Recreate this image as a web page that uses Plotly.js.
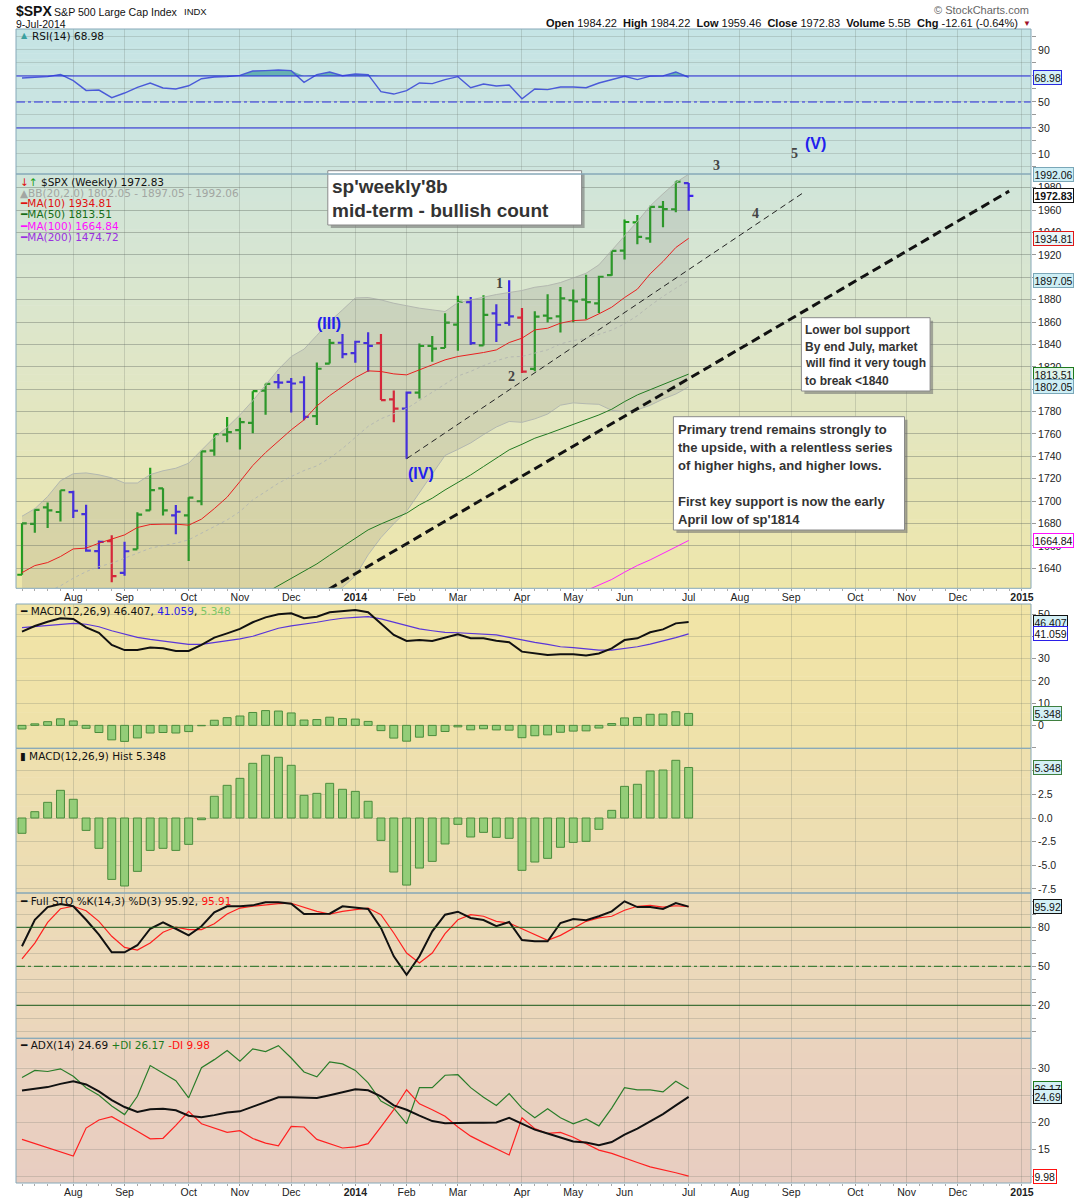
<!DOCTYPE html>
<html><head><meta charset="utf-8">
<script src="https://cdn.plot.ly/plotly-3.0.1.min.js"></script>
<style>body{margin:0;background:#fff}#chart{width:1075px;height:1200px}</style>
</head><body><div id="chart"></div>
<script>
// ---------------- DATA ----------------
const weeks = ['2013-07-08','2013-07-15','2013-07-22','2013-07-29','2013-08-05','2013-08-12','2013-08-19','2013-08-26','2013-09-02','2013-09-09','2013-09-16','2013-09-23','2013-09-30','2013-10-07','2013-10-14','2013-10-21','2013-10-28','2013-11-04','2013-11-11','2013-11-18','2013-11-25','2013-12-02','2013-12-09','2013-12-16','2013-12-23','2013-12-30','2014-01-06','2014-01-13','2014-01-20','2014-01-27','2014-02-03','2014-02-10','2014-02-17','2014-02-24','2014-03-03','2014-03-10','2014-03-17','2014-03-24','2014-03-31','2014-04-07','2014-04-14','2014-04-21','2014-04-28','2014-05-05','2014-05-12','2014-05-19','2014-05-26','2014-06-02','2014-06-09','2014-06-16','2014-06-23','2014-06-30','2014-07-07'];
const openP  = [1634.2,1679.6,1694.4,1690.3,1708.0,1688.4,1655.3,1664.3,1635.9,1656.9,1691.7,1711.4,1687.3,1687.2,1699.9,1745.2,1759.4,1763.4,1770.0,1798.8,1806.3,1806.6,1806.2,1776.0,1822.9,1841.5,1832.3,1841.3,1841.1,1791.0,1782.7,1797.0,1838.8,1836.8,1857.7,1877.9,1839.1,1867.7,1859.2,1863.9,1818.2,1865.8,1865.0,1879.5,1880.0,1876.7,1902.0,1923.9,1949.0,1934.8,1962.9,1960.8,1984.2];
const highP  = [1680.2,1693.1,1698.8,1709.7,1709.2,1696.8,1664.9,1669.5,1663.6,1690.0,1729.9,1711.4,1696.6,1703.4,1745.3,1759.8,1775.2,1774.5,1798.2,1804.8,1813.6,1810.0,1811.5,1823.8,1844.9,1849.4,1843.2,1850.8,1849.3,1798.8,1798.0,1840.8,1847.5,1867.9,1883.6,1882.4,1884.0,1875.9,1897.3,1872.5,1869.6,1884.9,1891.3,1889.1,1902.2,1901.3,1924.0,1951.6,1955.6,1963.9,1968.2,1985.6,1984.2];
const lowP   = [1634.2,1671.8,1676.0,1681.9,1684.9,1654.8,1639.4,1627.5,1633.4,1656.9,1691.7,1687.1,1670.4,1646.5,1696.4,1740.5,1752.7,1746.2,1760.6,1777.2,1800.6,1779.1,1772.3,1768.0,1822.9,1827.7,1823.7,1815.5,1790.3,1770.5,1737.9,1791.8,1824.6,1836.8,1834.4,1839.6,1839.1,1842.1,1856.7,1814.4,1816.0,1859.7,1850.6,1859.8,1862.4,1868.1,1901.3,1916.0,1929.6,1930.9,1944.7,1958.2,1959.5];
const closeP = [1680.2,1692.1,1691.7,1709.7,1691.4,1655.8,1663.5,1633.0,1655.2,1688.0,1709.9,1691.8,1690.5,1703.2,1744.5,1759.8,1761.6,1770.6,1798.2,1804.8,1805.8,1805.1,1775.3,1818.3,1841.4,1831.4,1842.4,1838.7,1790.3,1782.6,1797.0,1838.6,1836.3,1859.5,1878.0,1841.1,1866.5,1857.6,1865.1,1815.7,1864.9,1863.4,1881.1,1878.5,1877.9,1900.5,1923.6,1949.4,1936.2,1962.9,1961.0,1985.4,1972.8];
const barColor = ['G','G','G','G','B','B','B','R','B','G','G','G','B','G','G','G','G','G','G','G','B','B','B','G','G','B','B','B','R','R','B','G','G','G','G','B','G','B','B','R','G','G','G','G','G','G','G','G','G','G','G','G','B'];
const ma10 = [1636.1,1642.4,1645.1,1650.5,1657.3,1658.0,1662.4,1666.0,1669.8,1676.4,1679.1,1679.4,1679.4,1678.5,1683.9,1693.3,1703.5,1717.5,1731.8,1743.4,1753.2,1763.7,1772.6,1785.1,1794.3,1802.3,1810.3,1816.4,1815.8,1813.7,1812.8,1817.3,1821.7,1826.2,1829.2,1830.7,1832.8,1835.1,1841.7,1845.6,1853.0,1854.5,1859.0,1861.3,1861.9,1867.3,1873.3,1881.9,1889.4,1903.1,1914.1,1926.6,1934.8];
const ma50 = [null,null,null,null,null,null,null,null,null,null,null,null,null,null,null,null,null,null,null,1618.0,1624.3,1630.8,1637.0,1643.9,1651.7,1659.4,1667.3,1674.3,1679.6,1684.7,1689.2,1696.6,1702.6,1710.0,1716.6,1723.4,1730.9,1738.3,1745.8,1750.8,1756.2,1760.1,1764.2,1768.1,1772.6,1777.0,1782.1,1788.9,1794.9,1799.4,1803.9,1808.9,1813.5];
const ma100 = [null,null,null,null,null,null,null,null,null,null,null,null,null,null,null,null,null,null,null,null,null,null,null,null,null,null,null,null,null,null,null,null,null,null,null,null,null,null,null,null,null,null,null,null,1620.0,1625.0,1630.0,1636.5,1642.5,1647.5,1653.0,1659.0,1664.84];
const bbUpper = [1686.5,1693.2,1704.1,1718.2,1724.5,1725.2,1723.5,1720.8,1716.2,1716.2,1723.7,1727.1,1729.4,1733.9,1745.5,1757.0,1765.9,1777.1,1789.7,1804.2,1817.7,1829.2,1835.8,1848.1,1860.5,1870.9,1881.6,1881.9,1879.8,1876.8,1874.5,1872.4,1870.9,1869.4,1877.4,1879.8,1882.8,1884.6,1886.4,1888.2,1891.1,1892.6,1895.3,1899.2,1903.6,1911.1,1924.5,1937.0,1949.8,1963.8,1974.6,1984.7,1992.06];
const bbMid = [1610,1614,1619,1624.3,1631.1,1637.0,1641.5,1644.5,1649.0,1653.5,1657.9,1660.3,1662.4,1665.4,1671.3,1677.3,1683.2,1690.7,1701.1,1708.5,1716.0,1722.0,1727.3,1731.5,1738.4,1747.0,1757.0,1766.8,1773.6,1778.3,1782.7,1790.0,1797.3,1805.1,1811.8,1815.9,1821.1,1825.4,1828.8,1829.3,1832.3,1835.2,1840.5,1843.5,1845.3,1848.8,1852.8,1858.4,1865.7,1874.7,1882.9,1890.2,1897.05];
const bbLower = [1540,1540,1536,1531,1538,1549,1559,1568,1582,1591,1593,1594,1596,1597,1597,1598,1601,1604,1612,1613,1614,1615,1619,1615,1616,1623,1633,1652,1667.4,1679.8,1690.9,1707.6,1723.7,1740.8,1746.2,1752.0,1759.4,1766.2,1771.2,1770.4,1773.5,1777.8,1785.7,1787.8,1787.0,1786.5,1781.1,1779.8,1781.6,1785.6,1791.2,1795.7,1802.05];
const rsi = [68.5,69.2,69.5,71.2,66.4,58.9,59.2,53.3,56.9,61.2,64.6,60.8,60.0,62.5,67.9,69.2,69.5,70.5,73.8,74.1,74.6,74.1,65.1,71.0,73.1,70.2,71.5,71.0,57.9,56.1,58.7,64.6,64.1,67.2,69.5,61.0,63.8,62.3,63.1,52.5,60.0,59.5,61.5,61.5,61.0,64.6,67.2,69.8,67.2,69.9,70.1,73.1,68.98];
const macd = [42.1,44.6,46.5,48.1,47.8,44.0,41.6,36.1,33.8,33.8,35.0,34.6,33.4,33.4,36.1,39.4,41.3,43.3,46.3,48.5,49.9,50.3,48.1,48.8,50.8,51.3,51.8,50.8,45.5,40.6,37.9,38.3,37.9,39.4,40.9,39.1,39.1,38.0,37.3,33.1,32.3,31.6,31.9,31.9,31.4,32.3,34.6,38.3,39.1,41.8,43.1,45.8,46.407];
const macdSignal = [43.9,44.3,44.7,45.1,45.8,45.4,44.3,42.5,40.9,39.5,38.6,37.9,37.1,36.4,36.4,37.1,37.9,38.8,40.0,41.8,43.6,44.7,45.4,46.3,47.3,48.1,48.5,48.8,47.8,46.3,44.6,43.3,42.5,41.8,41.6,41.3,41.0,40.6,39.5,38.3,37.3,36.4,35.3,34.9,34.4,33.8,33.8,34.6,35.3,36.5,37.9,39.4,41.059];
const macdHist = [-1.62,0.67,1.66,2.93,1.98,-1.31,-3.21,-6.5,-7.2,-5.65,-3.43,-3.21,-3.43,-2.79,-0.18,2.3,3.46,4.2,5.79,6.64,6.43,5.58,2.4,2.61,3.67,3.04,2.82,1.77,-2.37,-5.72,-7.1,-5.3,-4.59,-2.75,-0.67,-2.01,-1.52,-2.05,-2.15,-5.54,-4.66,-4.27,-3.1,-2.58,-2.47,-1.2,0.81,3.35,3.57,4.98,5.08,6.11,5.348];
const stoK = [65.4,85.8,95.6,98.0,96.2,85.8,74.3,60.8,60.8,66.2,78.9,83.8,78.9,73.8,80.8,91.5,96.2,96.2,96.9,99.2,99.2,98.2,90.2,90.2,90.5,96.2,95.4,94.1,79.5,57.7,43.5,57.7,76.9,89.7,92.0,87.2,85.6,80.8,84.1,70.2,69.2,69.2,83.3,86.4,85.4,88.5,92.3,100.0,95.6,95.6,94.1,98.7,95.92];
const stoD = [55.8,67.9,83.8,94.3,96.2,92.8,84.6,73.1,64.6,62.5,67.9,76.2,80.2,78.2,78.2,82.8,90.2,94.8,96.2,97.4,98.2,98.5,95.4,92.3,90.2,92.3,93.6,94.8,89.7,75.6,60.2,52.5,60.2,75.1,85.8,89.7,88.5,84.6,83.3,78.9,74.3,70.0,73.8,79.5,84.6,87.2,88.5,93.1,96.2,96.9,95.6,96.6,95.91];
const adx = [25.85,26.2,26.5,27.1,27.6,27.0,25.7,24.1,22.8,21.9,22.4,22.5,22.2,21.2,20.9,21.3,21.8,22.0,22.9,23.7,24.6,24.6,24.5,24.5,25.0,25.6,26.1,25.9,24.8,23.1,22.3,21.2,20.2,19.8,19.9,19.9,19.9,19.95,20.8,19.7,18.6,17.9,17.1,16.4,16.2,15.7,16.3,17.7,18.8,20.1,21.5,23.1,24.69];
const plusDI = [28.3,29.6,29.4,29.9,28.5,26.4,25.0,23.0,21.4,24.8,30.5,29.1,27.7,24.5,30.1,31.6,33.3,31.3,33.6,33.1,34.2,31.9,29.3,28.4,31.2,30.8,29.6,27.3,23.9,22.6,19.7,26.4,26.4,28.7,28.8,26.4,24.6,23.1,25.3,22.6,20.8,22.5,20.8,19.7,20.6,19.3,22.6,26.4,26.0,26.0,25.6,27.6,26.17];
const minusDI = [16.8,16.0,15.2,14.4,13.7,18.9,20.4,21.0,19.7,18.3,16.9,17.0,19.4,22.0,19.7,18.9,18.1,18.4,16.95,16.1,15.6,19.2,19.1,16.8,16.0,15.2,15.4,16.0,19.1,22.3,26.0,23.4,22.3,21.1,19.1,17.4,16.2,15.1,13.9,20.8,18.8,17.9,18.1,17.2,16.0,14.8,14.2,13.3,12.5,11.7,11.2,10.6,9.98];
// trend lines drawn on the chart (week index, price)
const trendThinX = [30, 61], trendThinY = [1737.9, 1976];
const trendThickX = [23, 77], trendThickY = [1615, 1977];
// month axis labels (week index of first week in month)
const monthTickIdx = [4,8,13,17,21,26,30,34,39,43,47,52,56,60,65,69,73,78];
const monthTickText = ['Aug','Sep','Oct','Nov','Dec','<b>2014</b>','Feb','Mar','Apr','May','Jun','Jul','Aug','Sep','Oct','Nov','Dec','<b>2015</b>'];

// ---------------- LAYOUT HELPERS ----------------
const W=1075,H=1200, PL=16, PR=1031, PT=29, PB=1183;
const X = px => (px-PL)/(PR-PL);
const Y = py => (PB-py)/(PB-PT);
const idx = weeks.map((_,i)=>i);
const panels = {rsi:[29,174], price:[174,588.3], macd:[604,748.3], hist:[748.3,893], sto:[893,1038.3], adx:[1038.3,1183]};
const dom = k => [Y(panels[k][1]), Y(panels[k][0])];
const TF = 'Liberation Sans, Arial, sans-serif';
const LF = 'DejaVu Sans, Verdana, sans-serif';
const GRID = 'rgba(95,105,95,0.22)';

const shapes = [];
function gradient(y0,y1,stops,n){
  for(let i=0;i<n;i++){
    const t=(i+0.5)/n; let a=stops[0],b=stops[stops.length-1];
    for(let j=0;j<stops.length-1;j++){ if(t>=stops[j][0]&&t<=stops[j+1][0]){a=stops[j];b=stops[j+1];break;} }
    const f=(t-a[0])/((b[0]-a[0])||1);
    const c=a[1].map((v,k)=>Math.round(v+(b[1][k]-v)*f));
    const ya=y0+(y1-y0)*i/n, yb=y0+(y1-y0)*(i+1)/n+0.6;
    shapes.push({type:'rect',xref:'paper',yref:'paper',x0:0,x1:1,y0:Y(Math.min(yb,y1)),y1:Y(ya),fillcolor:`rgb(${c})`,line:{width:0},layer:'below'});
  }
}
gradient(29,174,[[0,[197,228,229]],[1,[206,229,222]]],24);
gradient(174,588.3,[[0,[208,229,218]],[0.45,[223,230,199]],[1,[238,230,170]]],60);
gradient(604,748.3,[[0,[241,228,166]],[1,[239,226,170]]],20);
gradient(748.3,893,[[0,[238,224,174]],[1,[236,220,180]]],20);
gradient(893,1038.3,[[0,[236,219,183]],[1,[235,214,188]]],20);
gradient(1038.3,1183,[[0,[234,211,190]],[1,[232,205,193]]],20);

// reference lines
const hline=(yref,v,color,dash,w)=>shapes.push({type:'line',xref:'paper',x0:0,x1:1,yref:yref,y0:v,y1:v,line:{color:color,width:w||1,dash:dash||'solid'},layer:'above'});
hline('y',70,'#2a2ae0');hline('y',30,'#2a2ae0');hline('y',50,'#2a2ae0','dashdot');
hline('y5',80,'#1d5e1d');hline('y5',20,'#1d5e1d');hline('y5',50,'#1d6e1d','dashdot');

// text boxes (shadow + box)
function box(x0,y0,x1,y1){
  shapes.push({type:'rect',xref:'paper',yref:'paper',x0:X(x0+3),x1:X(x1+3),y0:Y(y1+3),y1:Y(y0+3),fillcolor:'rgba(110,110,110,0.55)',line:{width:0},layer:'above'});
  shapes.push({type:'rect',xref:'paper',yref:'paper',x0:X(x0),x1:X(x1),y0:Y(y1),y1:Y(y0),fillcolor:'#ffffff',line:{color:'#8a8a8a',width:1},layer:'above'});
}
box(327.8,170.7,581.6,225);
box(801.4,317.7,930.1,391);
box(673.4,416.7,904.5,530);

// panel borders
Object.keys(panels).forEach(k=>{const p=panels[k];shapes.push({type:'rect',xref:'paper',yref:'paper',x0:0,x1:1,y0:Y(p[1]),y1:Y(p[0]),line:{color:'#86a8b8',width:1},fillcolor:'rgba(0,0,0,0)',layer:'above'});});

// ---------------- TRACES ----------------
const traces=[];
// RSI
traces.push({type:'scatter',mode:'lines',x:idx,y:rsi.map(()=>70),xaxis:'x',yaxis:'y',line:{width:0},hoverinfo:'skip'});
traces.push({type:'scatter',mode:'lines',x:idx,y:rsi.map(v=>Math.max(v,70)),xaxis:'x',yaxis:'y',line:{width:0},fill:'tonexty',fillcolor:'rgba(70,160,160,0.75)',hoverinfo:'skip'});
traces.push({type:'scatter',mode:'lines',x:idx,y:rsi,xaxis:'x',yaxis:'y',line:{color:'#4a5ad8',width:1.4},hoverinfo:'skip'});
// Bollinger
traces.push({type:'scatter',mode:'lines',x:idx,y:bbLower,xaxis:'x',yaxis:'y2',line:{color:'#b3b8b0',width:1},hoverinfo:'skip'});
traces.push({type:'scatter',mode:'lines',x:idx,y:bbUpper,xaxis:'x',yaxis:'y2',line:{color:'#b3b8b0',width:1},fill:'tonexty',fillcolor:'rgba(120,120,120,0.17)',hoverinfo:'skip'});
traces.push({type:'scatter',mode:'lines',x:idx,y:bbMid,xaxis:'x',yaxis:'y2',line:{color:'#b5b9b2',width:1,dash:'dot'},hoverinfo:'skip'});
traces.push({type:'scatter',mode:'lines',x:idx,y:ma50,xaxis:'x',yaxis:'y2',line:{color:'#217a21',width:1},hoverinfo:'skip'});
traces.push({type:'scatter',mode:'lines',x:idx,y:ma100,xaxis:'x',yaxis:'y2',line:{color:'#ff22ff',width:1},hoverinfo:'skip'});
traces.push({type:'scatter',mode:'lines',x:idx,y:ma10,xaxis:'x',yaxis:'y2',line:{color:'#e82020',width:1},hoverinfo:'skip'});
// OHLC bars by colour
const cmap={G:'#1f9e1c',B:'#3b22ee',R:'#e8182e'};
['G','B','R'].forEach(c=>{
  const sel=idx.filter(i=>barColor[i]===c);
  traces.push({type:'ohlc',x:sel,open:sel.map(i=>openP[i]),high:sel.map(i=>highP[i]),low:sel.map(i=>lowP[i]),close:sel.map(i=>closeP[i]),
    xaxis:'x',yaxis:'y2',tickwidth:0.37,increasing:{line:{color:cmap[c],width:2.2}},decreasing:{line:{color:cmap[c],width:2.2}},hoverinfo:'skip'});
});
// trend lines
traces.push({type:'scatter',mode:'lines',x:trendThickX,y:trendThickY,xaxis:'x',yaxis:'y2',line:{color:'#111',width:3,dash:'9px,5px'},hoverinfo:'skip'});
traces.push({type:'scatter',mode:'lines',x:trendThinX,y:trendThinY,xaxis:'x',yaxis:'y2',line:{color:'#222',width:1,dash:'6px,4px'},hoverinfo:'skip'});
// dummy for second x axis
traces.push({type:'scatter',mode:'lines',x:[0],y:[null],xaxis:'x2',yaxis:'y2',hoverinfo:'skip'});
// MACD
const histStyle={color:'#93cd78',line:{color:'#4b8c3c',width:1}};
traces.push({type:'bar',x:idx,y:macdHist,xaxis:'x',yaxis:'y3',width:0.62,marker:histStyle,hoverinfo:'skip'});
traces.push({type:'scatter',mode:'lines',x:idx,y:macdSignal,xaxis:'x',yaxis:'y3',line:{color:'#5a36d8',width:1.2},hoverinfo:'skip'});
traces.push({type:'scatter',mode:'lines',x:idx,y:macd,xaxis:'x',yaxis:'y3',line:{color:'#111',width:2},hoverinfo:'skip'});
// Hist
traces.push({type:'bar',x:idx,y:macdHist,xaxis:'x',yaxis:'y4',width:0.62,marker:histStyle,hoverinfo:'skip'});
// STO
traces.push({type:'scatter',mode:'lines',x:idx,y:stoD,xaxis:'x',yaxis:'y5',line:{color:'#ff2020',width:1.2},hoverinfo:'skip'});
traces.push({type:'scatter',mode:'lines',x:idx,y:stoK,xaxis:'x',yaxis:'y5',line:{color:'#111',width:2},hoverinfo:'skip'});
// ADX
traces.push({type:'scatter',mode:'lines',x:idx,y:plusDI,xaxis:'x',yaxis:'y6',line:{color:'#2a7d2a',width:1.2},hoverinfo:'skip'});
traces.push({type:'scatter',mode:'lines',x:idx,y:minusDI,xaxis:'x',yaxis:'y6',line:{color:'#ff2020',width:1.2},hoverinfo:'skip'});
traces.push({type:'scatter',mode:'lines',x:idx,y:adx,xaxis:'x',yaxis:'y6',line:{color:'#111',width:2},hoverinfo:'skip'});

// ---------------- AXES ----------------
const XR=[(PL-22)/12.82,(PR-22)/12.82];
const tickfont={family:TF,size:10.5,color:'#222'};
const xcommon={range:XR,tickmode:'array',tickvals:monthTickIdx,ticktext:monthTickText,tickfont:{family:TF,size:10.5,color:'#222'},
  ticks:'outside',ticklen:2,tickcolor:'#999',ticklabelstandoff:-3,zeroline:false,showline:false,fixedrange:true,
  minor:{tickmode:'linear',tick0:0,dtick:1,ticks:'outside',ticklen:2,tickcolor:'#aaa',showgrid:false}};
function yax(k,range,vals,texts,extra){
  return Object.assign({domain:dom(k),range:range,side:'right',anchor:'x',tickmode:'array',tickvals:vals,ticktext:texts,
    tickfont:tickfont,ticks:'outside',ticklen:4,tickcolor:'#999',showgrid:true,gridcolor:GRID,gridwidth:1,zeroline:false,showline:false,fixedrange:true},extra||{});
}
const priceTicks=[];for(let v=1640;v<=1980;v+=20)priceTicks.push(v);
const priceHidden=[1800,1900]; // fully covered by value boxes in the reference
const tens=[0,10,20,30,40,50,60,70,80,90,100];
const layout={
  width:W,height:H,margin:{l:PL,r:W-PR,t:PT,b:H-PB,pad:0},paper_bgcolor:'#ffffff',plot_bgcolor:'rgba(0,0,0,0)',
  showlegend:false,barmode:'overlay',hovermode:false,
  xaxis:Object.assign({domain:[0,1],anchor:'y6',showgrid:true,gridcolor:GRID,gridwidth:1,rangeslider:{visible:false}},xcommon),
  xaxis2:Object.assign({domain:[0,1],anchor:'y2',showgrid:false,rangeslider:{visible:false}},xcommon),
  yaxis: yax('rsi',[-5.4,106.15],tens,['','10','','30','','50','','','','90','']),
  yaxis2:yax('price',[1622.1,1992.3],priceTicks,priceTicks.map(v=>priceHidden.includes(v)?'':String(v))),
  yaxis3:yax('macd',[-10.3,54.5],[-10,0,10,20,30,40,50],['','0','10','20','30','','50']),
  yaxis4:yax('hist',[-7.94,7.38],[-7.5,-5,-2.5,0,2.5,5],['-7.5','-5.0','-2.5','0.0','2.5','5.0']),
  yaxis5:yax('sto',[-5.4,106.4],tens,['','','20','','','50','','','80','','']),
  yaxis6:yax('adx',[8.7,35.56],[10,15,20,25,30],['','15','20','','30']),
  shapes:shapes,annotations:[]
};

// ---------------- ANNOTATIONS ----------------
const A=layout.annotations;
function txt(xpx,ypx,text,font,opt){A.push(Object.assign({xref:'paper',yref:'paper',x:X(xpx),y:Y(ypx),text:text,showarrow:false,xanchor:'left',yanchor:'middle',font:font},opt||{}));}
// header
txt(14,11,'<b>$SPX</b>',{family:TF,size:14,color:'#111'});
txt(52,11.5,'S&P 500 Large Cap Index',{family:TF,size:10.6,color:'#111'});
txt(182,12,'INDX',{family:TF,size:9.5,color:'#111'});
txt(14,24,'9-Jul-2014',{family:TF,size:10.5,color:'#111'});
txt(1031,10,'© StockCharts.com',{family:TF,size:11,color:'#666'},{xanchor:'right'});
txt(1020,23.5,'<b>Open</b> 1984.22  <b>High</b> 1984.22  <b>Low</b> 1959.46  <b>Close</b> 1972.83  <b>Volume</b> 5.5B  <b>Chg</b> -12.61 (-0.64%)',{family:TF,size:11,color:'#111'},{xanchor:'right'});
txt(1021,23,'▼',{family:TF,size:8,color:'#a0102a'});
// legends
const lf=(c)=>({family:LF,size:10.5,color:c||'#111'});
txt(19,36,'▲',{family:LF,size:8,color:'#3aa0a0'});
txt(30,36,'RSI(14) 68.98',lf());
txt(18,181.7,'<span style="color:#e01010">↓</span><span style="color:#20a020">↑</span> $SPX (Weekly) 1972.83',lf());
txt(18,192.7,'▲BB(20,2.0) 1802.05 - 1897.05 - 1992.06',lf('#a2a6a2'));
txt(18,203.3,'━MA(10) 1934.81',lf('#e01010'));
txt(18,214.3,'━MA(50) 1813.51',lf('#176d17'));
txt(18,225.7,'━MA(100) 1664.84',lf('#ff10ff'));
txt(18,236.7,'━MA(200) 1474.72',lf('#9a30e0'));
txt(18,610.7,'━ MACD(12,26,9) 46.407, <span style="color:#2a1ee8">41.059</span>, <span style="color:#7cc466">5.348</span>',lf());
txt(18,755.7,'▮ MACD(12,26,9) Hist 5.348',lf());
txt(18,900.7,'━ Full STO %K(14,3) %D(3) 95.92, <span style="color:#ff1010">95.91</span>',lf());
txt(18,1045.3,'━ ADX(14) 24.69 <span style="color:#1d7a1d">+DI 26.17</span> <span style="color:#ff1010">-DI 9.98</span>',lf());
// wave labels
const wb={family:TF,size:16,color:'#2020ee'};
txt(328.7,323.3,'<b>(III)</b>',wb,{xanchor:'center'});
txt(420.8,473.3,'<b>(IV)</b>',wb,{xanchor:'center'});
txt(815.5,143.3,'<b>(V)</b>',wb,{xanchor:'center'});
const wn={family:'Liberation Serif, Times New Roman, serif',size:14,color:'#444'};
[['1',499.3,283.3],['2',511.7,376.7],['3',716.7,165.7],['4',755.6,214],['5',794.2,153.3]].forEach(a=>txt(a[1],a[2],'<b>'+a[0]+'</b>',wn,{xanchor:'center'}));
// text boxes
const bf={family:TF,size:19,color:'#333'};
txt(330,187,"<b>sp'weekly'8b</b>",bf);
txt(330,210,'<b>mid-term - bullish count</b>',bf);
const sf={family:TF,size:12,color:'#333'};
['Lower bol support','By end July, market','will find it very tough','to break &lt;1840'].forEach((t,i)=>txt(803,[330,346.7,363.3,380.7][i],'<b>'+t+'</b>',sf));
const mf={family:TF,size:13,color:'#333'};
['Primary trend remains strongly to','the upside, with a relentless series','of higher highs, and higher lows.','First key support is now the early',"April low of sp'1814"].forEach((t,i)=>txt(676,[429.3,447.3,465.3,501.3,519.3][i],'<b>'+t+'</b>',mf));
// value labels on right axis
function vlab(yref,v,text,bg,border,bold){A.push({xref:'paper',yref:yref,x:1,y:v,xanchor:'left',yanchor:'middle',xshift:2,showarrow:false,
  text:bold?'<b>'+text+'</b>':text,font:{family:TF,size:10.5,color:'#111'},bgcolor:bg,bordercolor:border,borderwidth:1,borderpad:0.5});}
vlab('y',68.98,'68.98','#d4f0f6','#2a2ae0');
vlab('y2',1992.06,'1992.06','#cdeef5','#7aa7b8');
vlab('y2',1972.83,'1972.83','#ffffff','#111',true);
vlab('y2',1934.81,'1934.81','#e8f6f8','#e01818');
vlab('y2',1897.05,'1897.05','#cdeef5','#7aa7b8');
vlab('y2',1813.51,'1813.51','#dff4ea','#1d7a1d');
vlab('y2',1802.05,'1802.05','#cdeef5','#7aa7b8');
vlab('y2',1664.84,'1664.84','#ffffff','#ff10ff');
vlab('y3',46.407,'46.407','#d4f0f6','#111');
vlab('y3',41.059,'41.059','#ffffff','#2a1ee8');
vlab('y3',5.348,'5.348','#d4f0f6','#3f7f3f');
vlab('y4',5.348,'5.348','#d4f0f6','#3f7f3f');
vlab('y5',95.92,'95.92','#d4f0f6','#111');
vlab('y6',26.17,'26.17','#d4f0f6','#1d7a1d');
vlab('y6',24.69,'24.69','#d4f0f6','#111');
vlab('y6',9.98,'9.98','#ffffff','#ff1010');

Plotly.newPlot('chart',traces,layout,{staticPlot:true,displayModeBar:false});
</script></body></html>
